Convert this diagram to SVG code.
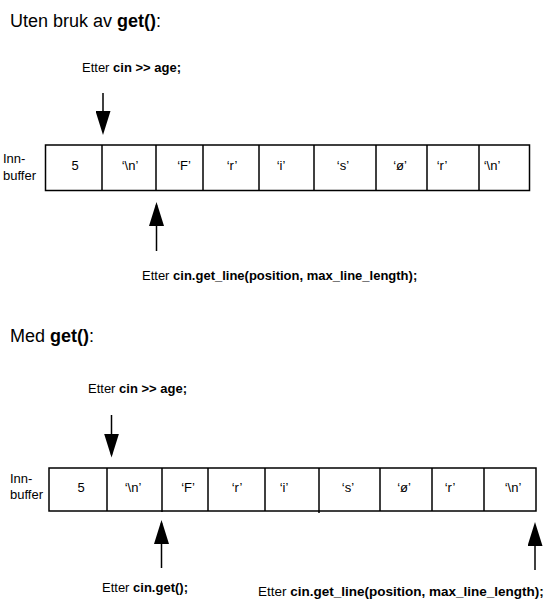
<svg xmlns="http://www.w3.org/2000/svg" width="556" height="613" viewBox="0 0 556 613">
<style>
text{font-family:"Liberation Sans",Arial,sans-serif;fill:#000}
.h{font-size:18px}
.lbl{font-size:13px}
.cell{font-size:13px;text-anchor:middle}
.b{font-weight:bold}
.box{fill:#fff;stroke:#000;stroke-width:1.5}
.div{stroke:#000;stroke-width:1.5}
.arr{stroke:#000;stroke-width:1.5;fill:none;marker-end:url(#ah)}
</style>
<defs>
<marker id="ah" markerUnits="userSpaceOnUse" viewBox="0 0 24 15" markerWidth="24" markerHeight="15" refX="21" refY="7.5" orient="auto">
<path d="M0,0 L24,7.5 L0,15 z" fill="#000"/>
</marker>
</defs>
<rect width="556" height="613" fill="#fff"/>

<g id="title1"><text class="h" x="10" y="27">Uten bruk av <tspan class="b">get()</tspan>:</text></g>

<g id="buffer1">
<text class="lbl" x="3" y="163">Inn-</text>
<text class="lbl" x="3" y="180">buffer</text>
<rect class="box" x="45.5" y="145" width="484" height="45.5"/>
<line class="div" x1="102" y1="145" x2="102" y2="190.5"/>
<line class="div" x1="156" y1="145" x2="156" y2="190.5"/>
<line class="div" x1="203" y1="145" x2="203" y2="190.5"/>
<line class="div" x1="259" y1="145" x2="259" y2="190.5"/>
<line class="div" x1="314" y1="145" x2="314" y2="190.5"/>
<line class="div" x1="376" y1="145" x2="376" y2="190.5"/>
<line class="div" x1="427" y1="145" x2="427" y2="190.5"/>
<line class="div" x1="479" y1="145" x2="479" y2="190.5"/>
<text class="cell" x="75" y="170">5</text>
<text class="cell" x="130" y="170">‘\n’</text>
<text class="cell" x="184" y="170">‘F’</text>
<text class="cell" x="232" y="170">‘r’</text>
<text class="cell" x="281" y="170">‘i’</text>
<text class="cell" x="343" y="170">‘s’</text>
<text class="cell" x="400" y="170">‘ø’</text>
<text class="cell" x="442" y="170">‘r’</text>
<text class="cell" x="492" y="170">‘\n’</text>
</g>

<g id="note1a"><text class="lbl" x="82" y="72">Etter <tspan class="b">cin &gt;&gt; age;</tspan></text></g>
<g id="note1b"><text class="lbl" x="142" y="280">Etter <tspan class="b">cin.get_line(position, max_line_length);</tspan></text></g>

<g id="title2"><text class="h" x="10" y="342">Med <tspan class="b">get()</tspan>:</text></g>

<g id="buffer2">
<text class="lbl" x="10" y="483">Inn-</text>
<text class="lbl" x="10" y="499">buffer</text>
<rect class="box" x="49" y="468" width="487" height="43"/>
<line class="div" x1="107" y1="468" x2="107" y2="511"/>
<line class="div" x1="162" y1="468" x2="162" y2="512"/>
<line class="div" x1="208" y1="468" x2="208" y2="511"/>
<line class="div" x1="265" y1="468" x2="265" y2="511"/>
<line class="div" x1="319" y1="468" x2="319" y2="513"/>
<line class="div" x1="380" y1="468" x2="380" y2="511"/>
<line class="div" x1="432" y1="468" x2="432" y2="511"/>
<line class="div" x1="484" y1="468" x2="484" y2="511"/>
<text class="cell" x="81" y="492">5</text>
<text class="cell" x="133" y="492">‘\n’</text>
<text class="cell" x="188" y="492">‘F’</text>
<text class="cell" x="237" y="492">‘r’</text>
<text class="cell" x="284" y="492">‘i’</text>
<text class="cell" x="348" y="492">‘s’</text>
<text class="cell" x="404" y="492">‘ø’</text>
<text class="cell" x="450" y="492">‘r’</text>
<text class="cell" x="513" y="492">‘\n’</text>
</g>

<g id="note2a"><text class="lbl" x="88" y="393">Etter <tspan class="b">cin &gt;&gt; age;</tspan></text></g>
<g id="note2b"><text class="lbl" x="102" y="592">Etter <tspan class="b">cin.get();</tspan></text></g>
<g id="note2c"><text class="lbl" x="258" y="596" style="font-size:13.5px">Etter <tspan class="b">cin.get_line(position, max_line_length);</tspan></text></g>

<g id="connectors">
<line class="arr" x1="103" y1="93" x2="103" y2="132"/>
<line class="arr" x1="156.5" y1="251" x2="156.5" y2="205"/>
<line class="arr" x1="111.5" y1="415" x2="111.5" y2="454.5"/>
<line class="arr" x1="161.5" y1="568" x2="161.5" y2="523"/>
<line class="arr" x1="535" y1="570" x2="535" y2="525"/>
</g>
</svg>
